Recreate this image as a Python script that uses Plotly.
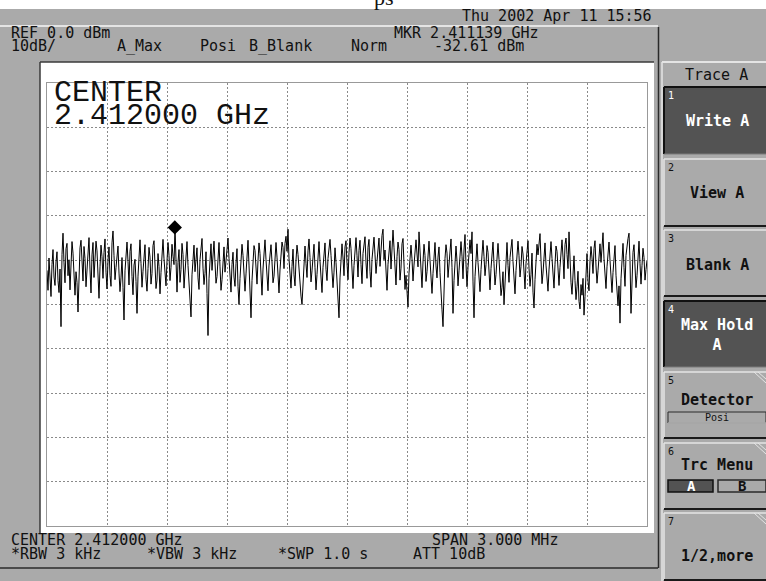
import numpy as np
import plotly.graph_objects as go

# Sweep settings
CENTER_GHZ = 2.412000
SPAN_GHZ = 0.003
REF_DBM = 0.0
DB_PER_DIV = 10

# Marker
MKR_FREQ_GHZ = 2.411139
MKR_LEVEL_DBM = -32.61

# Max-hold trace A (dBm), 601 sweep points across the span
TRACE_A = [
    -42.3, -46.8, -39.5, -44.9, -48.2, -41.0, -37.6, -43.8, -45.7, -40.4,
    -38.1, -44.6, -47.3, -42.0, -55.0, -38.7, -33.9, -40.6, -45.1, -37.4,
    -36.2, -43.5, -39.9, -46.7, -41.3, -35.8, -38.4, -44.2, -47.9, -42.6,
    -45.0, -51.7, -43.1, -37.2, -35.5, -40.8, -44.7, -36.9, -39.6, -46.0,
    -41.8, -36.4, -34.9, -42.2, -47.4, -38.8, -36.0, -43.9, -40.1, -35.7,
    -37.9, -45.3, -48.6, -41.5, -36.6, -39.2, -44.1, -38.3, -35.2, -42.7,
    -46.5, -40.0, -37.0, -43.4, -45.9, -36.1, -33.4, -39.0, -44.4, -41.7,
    -38.6, -36.8, -42.9, -47.1, -44.0, -39.4, -46.2, -53.5, -42.4, -37.5,
    -35.9, -40.3, -45.6, -38.0, -36.3, -43.7, -47.8, -41.1, -39.8, -44.8,
    -52.0, -43.6, -37.8, -35.4, -40.7, -46.1, -42.5, -38.2, -36.5, -44.3,
    -47.0, -41.9, -37.1, -39.3, -45.4, -43.0, -36.7, -35.6, -40.9, -46.4,
    -44.5, -38.5, -41.4, -47.6, -42.8, -37.3, -35.3, -39.7, -43.2, -45.8,
    -40.2, -36.0, -38.9, -44.6, -41.6, -36.4, -39.1, -41.0, -32.61, -43.9,
    -47.2, -40.5, -37.6, -45.0, -42.1, -36.2, -38.7, -46.3, -43.5, -39.5,
    -35.8, -41.2, -44.9, -47.7, -52.8, -43.3, -38.4, -36.6, -42.6, -40.0,
    -37.2, -44.0, -46.6, -39.9, -36.9, -35.1, -41.8, -45.5, -43.0, -38.1,
    -47.5, -57.0, -44.2, -39.0, -36.3, -42.3, -37.9, -35.7, -40.6, -45.2,
    -43.7, -38.6, -36.0, -41.5, -46.8, -44.4, -39.2, -37.0, -42.7, -40.3,
    -36.8, -35.0, -39.6, -44.7, -47.2, -41.0, -38.2, -43.8, -45.9, -40.7,
    -37.4, -46.0, -50.0, -44.1, -39.4, -36.4, -38.9, -42.5, -47.0, -43.1,
    -38.0, -35.5, -41.1, -46.5, -53.0, -44.6, -39.8, -36.7, -37.8, -42.9,
    -45.4, -40.1, -36.1, -38.5, -43.4, -47.9, -42.0, -37.3, -35.4, -39.9,
    -44.3, -46.9, -41.3, -38.8, -36.5, -40.4, -45.1, -43.6, -37.7, -36.0,
    -39.3, -44.8, -47.4, -42.2, -38.3, -35.9, -37.1, -41.9, -36.2, -34.6,
    -38.0, -33.0, -39.7, -44.2, -46.3, -41.4, -37.5, -43.3, -45.8, -40.0,
    -36.6, -38.7, -42.8, -46.0, -48.1, -50.0, -44.5, -39.1, -36.8, -40.8,
    -43.9, -37.9, -35.2, -39.4, -44.9, -42.4, -38.1, -36.4, -41.7, -46.7,
    -43.2, -37.6, -35.8, -40.2, -45.5, -47.3, -41.6, -38.4, -36.1, -42.1,
    -44.6, -39.6, -36.9, -35.3, -38.9, -43.7, -46.2, -42.7, -37.2, -40.5,
    -45.7, -48.8, -53.0, -44.0, -38.6, -36.3, -39.5, -43.5, -37.0, -35.6,
    -40.7, -44.4, -38.2, -35.0, -37.4, -42.3, -46.4, -41.2, -36.7, -34.9,
    -39.0, -43.8, -37.8, -35.5, -41.0, -45.3, -38.5, -36.0, -34.7, -40.6,
    -44.1, -37.1, -35.3, -42.5, -46.1, -39.8, -36.5, -34.8, -38.8, -43.0,
    -40.3, -36.2, -35.0, -41.4, -37.4, -34.4, -33.0, -39.9, -37.7, -44.3,
    -46.8, -40.9, -36.8, -35.6, -42.0, -38.0, -33.2, -37.2, -43.1, -45.6,
    -39.2, -35.9, -37.6, -44.5, -41.8, -36.3, -35.1, -40.1, -46.6, -43.4,
    -47.8, -50.6, -42.9, -38.3, -36.6, -39.7, -44.7, -41.1, -36.9, -35.4,
    -38.6, -41.5, -33.6, -37.9, -43.6, -46.2, -40.4, -36.4, -38.9, -44.8,
    -42.6, -37.3, -35.7, -40.0, -45.2, -47.5, -43.0, -38.1, -36.0, -41.3,
    -44.0, -39.3, -37.0, -42.8, -48.3, -51.2, -55.0, -45.0, -39.6, -36.5,
    -38.4, -43.9, -40.6, -36.1, -35.2, -41.6, -52.0, -44.6, -38.7, -36.8,
    -40.2, -45.8, -42.4, -37.5, -35.8, -39.1, -44.2, -37.7, -34.2, -40.9,
    -46.0, -41.7, -37.1, -35.4, -38.5, -33.6, -44.9, -53.0, -43.7, -38.0,
    -36.3, -40.5, -45.4, -47.1, -42.1, -37.8, -35.5, -39.2, -43.5, -41.0,
    -36.7, -38.2, -44.3, -46.7, -41.9, -37.2, -35.9, -40.8, -45.6, -43.2,
    -38.9, -36.2, -39.8, -44.7, -48.0, -46.1, -42.6, -50.0, -44.1, -38.3,
    -36.0, -41.2, -45.0, -39.4, -36.6, -35.3, -40.3, -44.5, -47.6, -42.3,
    -37.6, -35.7, -39.0, -43.8, -41.4, -36.9, -38.6, -44.0, -46.5, -40.7,
    -37.0, -35.6, -41.8, -45.9, -43.3, -38.4, -47.2, -50.8, -44.4, -39.5,
    -36.4, -38.8, -35.2, -34.0, -40.0, -45.3, -42.9, -37.5, -36.1, -41.1,
    -44.8, -47.0, -42.2, -37.9, -35.8, -39.6, -43.6, -46.3, -40.9, -36.8,
    -38.0, -42.7, -45.7, -41.6, -37.3, -35.4, -39.3, -44.2, -36.5, -35.0,
    -38.7, -41.9, -33.6, -40.4, -45.1, -47.7, -43.1, -39.0, -44.6, -48.9,
    -46.0, -42.5, -49.3, -51.0, -45.5, -47.9, -44.1, -52.4, -48.2, -42.0,
    -38.5, -44.7, -46.9, -40.2, -36.9, -39.5, -43.0, -37.4, -35.6, -41.3,
    -45.2, -42.4, -38.1, -36.3, -40.5, -35.5, -33.8, -39.7, -44.3, -46.4,
    -41.5, -37.7, -35.9, -40.0, -44.9, -47.3, -42.8, -38.6, -36.7, -43.4,
    -48.5, -50.3, -45.8, -54.2, -44.2, -39.1, -36.2, -41.7, -45.9, -38.9,
    -36.0, -35.1, -33.9, -40.1, -52.0, -44.0, -38.2, -36.5, -42.0, -46.2,
    -43.5, -38.0, -35.7, -40.8, -45.4, -41.2, -37.3, -39.4, -44.5, -42.1,
    -40.0,
]

# Annotation texts
HEADER_TEXT = {
    "ref": "REF 0.0 dBm",
    "scale": "10dB/",
    "trace_a": "A_Max",
    "detector": "Posi",
    "trace_b": "B_Blank",
    "mode": "Norm",
    "mkr_freq": "MKR 2.411139 GHz",
    "mkr_level": "-32.61 dBm",
    "date": "Thu 2002 Apr 11 15:56",
}
FOOTER_TEXT = {
    "center": "CENTER 2.412000 GHz",
    "rbw": "*RBW 3 kHz",
    "vbw": "*VBW 3 kHz",
    "swp": "*SWP 1.0 s",
    "span": "SPAN 3.000 MHz",
    "att": "ATT 10dB",
}
SOFTKEYS = ["Write A", "View A", "Blank A", "Max Hold<br>A", "Detector", "Trc Menu", "1/2,more"]

# ---------------------------------------------------------------------------
W, H = 766, 581
PL, PR, PT, PB = 47, 647, 83, 526  # plot area in pixels

GRAY = "#aaaaaa"
DARK = "#535353"
LIGHT = "#e4e4e4"
INK = "#111111"
MONO = "DejaVu Sans Mono"
SERIF_MONO = "Liberation Mono, Cousine, FreeMono, Nimbus Mono PS, Courier, monospace"


def px(x):
    return (x - PL) / (PR - PL)


def py(y):
    return (PB - y) / (PB - PT)


shapes = []


def rect(x0, y0, x1, y1, fill, line_color=None, lw=0):
    shapes.append(dict(type="rect", xref="paper", yref="paper", layer="below",
                       x0=px(x0), x1=px(x1), y0=py(y1), y1=py(y0),
                       fillcolor=fill,
                       line=dict(width=lw, color=line_color or fill)))


def seg(x0, y0, x1, y1, color, lw=1):
    shapes.append(dict(type="line", xref="paper", yref="paper", layer="below",
                       x0=px(x0), x1=px(x1), y0=py(y0), y1=py(y1),
                       line=dict(width=lw, color=color)))


annotations = []


def label(x, y, text, size=15, color=INK, anchor="left", family=MONO, bold=False):
    if bold:
        text = "<b>" + text + "</b>"
    annotations.append(dict(xref="paper", yref="paper", x=px(x), y=py(y),
                            text=text, showarrow=False, xanchor=anchor,
                            yanchor="middle", align="center", borderpad=0,
                            font=dict(family=family, size=size, color=color)))


# Screen body
rect(0, 9, W, H, GRAY)
seg(0, 26, 658, 26, LIGHT, 2)
seg(658.5, 27, 658.5, 568, "#2a2a2a", 1.5)
seg(0, 568, 658, 568, "#2a2a2a", 1.5)

# Graticule frame
rect(40, 62, 654, 533, "white")
seg(40, 62, 40, 533, "#3a3a3a", 1.5)
seg(40, 62, 654, 62, "#3a3a3a", 1.5)

# Softkey panel
seg(662, 62, W, 62, LIGHT, 2)
seg(662, 62, 662, H, LIGHT, 1.5)

key_rows = [(87, 154), (159, 226), (230, 296), (301, 367), (372, 438), (443, 509), (513, 580)]
dark_keys = {0, 3}
for k, (y0, y1) in enumerate(key_rows):
    if k in dark_keys:
        rect(664, y0, W, y1, DARK)
        seg(664, y0, W, y0, "#111111", 2)
        seg(664, y0, 664, y1, "#111111", 2)
        seg(664, y1, W, y1, "#7a7a7a", 1)
    else:
        rect(664, y0, W, y1, GRAY)
        seg(664, y0, W, y0, LIGHT, 1.5)
        seg(664, y0, 664, y1, LIGHT, 1.5)
        seg(664, y1, W, y1, "#1a1a1a", 2)
    if k >= 4:
        seg(754, y0, W, y0 + 11, LIGHT, 1)
        seg(758, y0, W, y0 + 7, LIGHT, 1)

# Detector sub-box
rect(668, 412, W, 423, GRAY, "#2a2a2a", 1)
seg(668, 423, W, 423, LIGHT, 1)
# Trace menu A/B boxes
rect(668, 480, 713, 492, DARK, "#111111", 1.5)
rect(718, 480, W, 492, GRAY, "#2a2a2a", 1.5)

# Header
label(10, 32.5, HEADER_TEXT["ref"])
label(10, 46, HEADER_TEXT["scale"])
label(116, 46, HEADER_TEXT["trace_a"])
label(199, 46, HEADER_TEXT["detector"])
label(248, 46, HEADER_TEXT["trace_b"])
label(350, 46, HEADER_TEXT["mode"])
label(393, 32.5, HEADER_TEXT["mkr_freq"])
label(433, 46, HEADER_TEXT["mkr_level"])
label(653, 16, HEADER_TEXT["date"], anchor="right")
label(384, -3, "ps", size=22, family="Liberation Serif", anchor="center")

# Footer
label(10, 539.5, FOOTER_TEXT["center"])
label(10, 554, FOOTER_TEXT["rbw"])
label(146, 554, FOOTER_TEXT["vbw"])
label(277, 554, FOOTER_TEXT["swp"])
label(431, 539.5, FOOTER_TEXT["span"])
label(412, 554, FOOTER_TEXT["att"])

# Centre frequency readout inside the graticule
label(53, 93, "CENTER", size=30, family=SERIF_MONO)
label(53, 116, "2.412000 GHz", size=30, family=SERIF_MONO)

# Softkey labels
label(716, 75, "Trace A", anchor="center")
key_centres = [121, 193, 265, 335, 400, 465, 556]
for k, (yc, text) in enumerate(zip(key_centres, SOFTKEYS)):
    col = "white" if k in dark_keys else INK
    label(717, yc, text, color=col, anchor="center", bold=True)
    label(667, key_rows[k][0] + 8, str(k + 1), size=10, color=col)
label(717, 417.5, "Posi", size=10, anchor="center")
label(691, 486, "A", size=14, color="white", anchor="center", bold=True)
label(742, 486, "B", size=14, anchor="center", bold=True)

# ---------------------------------------------------------------------------
f_start = CENTER_GHZ - SPAN_GHZ / 2
f_stop = CENTER_GHZ + SPAN_GHZ / 2
freq = np.linspace(f_start, f_stop, len(TRACE_A))

fig = go.Figure()
fig.add_trace(go.Scatter(x=freq, y=TRACE_A, mode="lines",
                         line=dict(color="black", width=1), hoverinfo="skip"))
fig.add_trace(go.Scatter(x=[MKR_FREQ_GHZ], y=[MKR_LEVEL_DBM], mode="markers",
                         marker=dict(symbol="diamond", size=11, color="black"),
                         hoverinfo="skip"))

axis_common = dict(showticklabels=False, ticks="", showgrid=True,
                   gridcolor="#8a8a8a", gridwidth=1, griddash="2px,2px",
                   showline=True, mirror=True, linecolor="#999999", linewidth=1,
                   zeroline=False, fixedrange=True)

fig.update_xaxes(range=[f_start, f_stop], tick0=f_start, dtick=SPAN_GHZ / 10,
                 **axis_common)
fig.update_yaxes(range=[REF_DBM - 10 * DB_PER_DIV, REF_DBM], tick0=REF_DBM,
                 dtick=DB_PER_DIV, **axis_common)

fig.update_layout(width=W, height=H, autosize=False,
                  margin=dict(l=PL, r=W - PR, t=PT, b=H - PB, pad=0),
                  paper_bgcolor="white", plot_bgcolor="white",
                  showlegend=False, shapes=shapes, annotations=annotations)

fig.write_html("out.html", config={"displayModeBar": False, "staticPlot": True})
